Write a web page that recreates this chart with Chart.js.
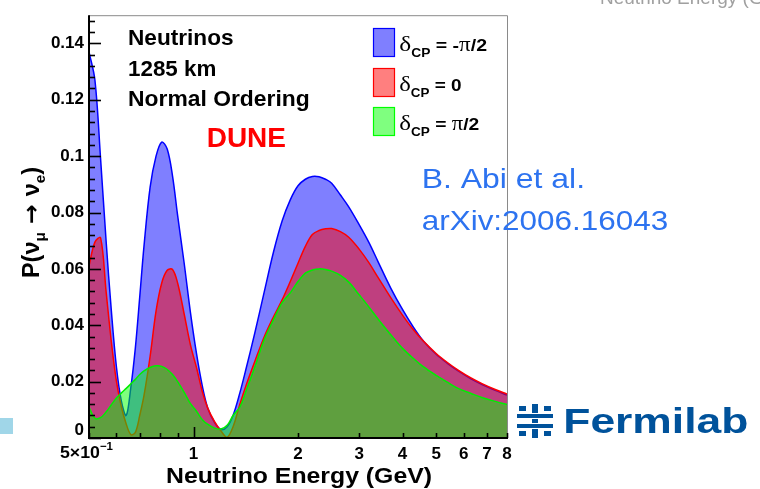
<!DOCTYPE html>
<html><head><meta charset="utf-8">
<script src="https://cdn.jsdelivr.net/npm/chart.js@4.4.1/dist/chart.umd.min.js"></script>
<style>html,body{margin:0;padding:0;background:#fff;overflow:hidden}canvas{display:block}</style>
</head><body>
<canvas id="c" width="760" height="489"></canvas>
<script>
// ---- data ----
const energies = [0.50,0.52,0.54,0.56,0.58,0.60,0.62,0.64,0.66,0.68,0.70,0.72,0.75,0.78,0.81,0.84,0.87,0.90,0.94,0.98,
  1.02,1.06,1.10,1.15,1.20,1.25,1.30,1.36,1.42,1.50,1.60,1.70,1.80,1.90,2.0,2.1,2.2,2.3,2.4,2.5,2.65,2.8,3.0,3.2,3.4,3.7,4.0,4.3,4.6,5.0,5.4,5.8,6.3,6.8,7.4,8.0];
const probNegHalfPi = [0.137,0.127,0.099,0.070,0.045,0.025,0.013,0.008,0.018,0.032,0.050,0.068,0.089,0.100,0.105,0.1025,0.093,0.079,0.062,0.0445,
  0.030,0.0185,0.0105,0.0055,0.003,0.004,0.008,0.016,0.025,0.037,0.052,0.066,0.077,0.0845,0.0895,0.0918,0.0928,0.0927,0.0918,0.0904,0.0862,0.082,0.0757,0.0694,0.0626,0.0532,0.0456,0.0393,0.0343,0.0297,0.0264,0.0237,0.0210,0.0189,0.0169,0.0152];
const probZero = [0.061,0.0695,0.071,0.052,0.034,0.020,0.011,0.005,0.0012,0.002,0.008,0.015,0.029,0.045,0.055,0.0595,0.0598,0.055,0.044,0.033,
  0.025,0.0165,0.0105,0.0058,0.0025,0.0003,0.004,0.012,0.019,0.027,0.036,0.043,0.049,0.0555,0.062,0.068,0.0722,0.0736,0.0742,0.0743,0.0732,0.0712,0.0670,0.0622,0.0570,0.0498,0.0436,0.0384,0.0343,0.0300,0.0267,0.0240,0.0213,0.0192,0.0172,0.0156];
const probPosHalfPi = [0.011,0.0070,0.0072,0.0092,0.0118,0.0142,0.0160,0.0176,0.0192,0.0208,0.0225,0.0238,0.0250,0.0256,0.0254,0.0243,0.0225,0.0200,0.0162,0.0122,
  0.0095,0.0065,0.0048,0.0035,0.0032,0.0045,0.008,0.011,0.017,0.025,0.035,0.042,0.048,0.0515,0.0555,0.0585,0.0596,0.0600,0.0598,0.0592,0.0577,0.0553,0.0508,0.0465,0.0422,0.0366,0.0318,0.0282,0.0252,0.0222,0.0197,0.0175,0.0158,0.0143,0.0130,0.0119];
const seriesNames = ['δCP = -π/2', 'δCP = 0', 'δCP = π/2'];
const xTickValues = [0.5,0.6,0.7,0.8,0.9,1,2,3,4,5,6,7,8];
const xTickLabels = ['5×10⁻¹','','','','','1','2','3','4','5','6','7','8'];
const yMajorLabels = ['0','0.02','0.04','0.06','0.08','0.1','0.12','0.14'];
const yTickValues = [];
for (let i = 0; i <= 37; i++) yTickValues.push(+(i * 0.004).toFixed(3));

const SANS = '"Liberation Sans", Arial, sans-serif';
const SERIF = '"Liberation Serif", serif';

function pts(arr){ return energies.map((e,i)=>({x:e,y:arr[i]})); }
function ds(label, arr, line, fill, order){
  return {label, data: pts(arr), borderColor: line, backgroundColor: fill, fill: 'origin',
    borderWidth: 1.5, pointRadius: 0, tension: 0.35, order};
}

function richWidth(ctx, parts){ let w=0; for(const p of parts){ ctx.font=p.f; w+=ctx.measureText(p.t).width; } return w; }
function drawRich(ctx, parts, x, y, targetW, color){
  const w = richWidth(ctx, parts);
  const sx = targetW ? targetW / w : 1;
  ctx.save(); ctx.translate(x, y); ctx.scale(sx, 1);
  ctx.textBaseline = 'alphabetic'; ctx.textAlign = 'left';
  let cx = 0;
  for (const p of parts){ ctx.font = p.f; ctx.fillStyle = p.c || color; ctx.fillText(p.t, cx, p.dy || 0); cx += ctx.measureText(p.t).width; }
  ctx.restore();
}

const decor = {
  id: 'decor',
  afterDatasetsDraw(chart){
    const ctx = chart.ctx, a = chart.chartArea, xs = chart.scales.x, ys = chart.scales.y;
    ctx.save();
    ctx.strokeStyle = '#8a8a8a'; ctx.lineWidth = 1;
    ctx.beginPath(); ctx.moveTo(a.left, a.top + 0.5); ctx.lineTo(a.right + 0.5, a.top + 0.5); ctx.lineTo(a.right + 0.5, a.bottom); ctx.stroke();
    ctx.strokeStyle = '#000'; ctx.lineWidth = 2;
    ctx.beginPath(); ctx.moveTo(a.left, a.top); ctx.lineTo(a.left, a.bottom); ctx.lineTo(a.right + 1, a.bottom); ctx.stroke();
    ctx.lineWidth = 1.6;
    for (const v of yTickValues){
      const y = Math.round(ys.getPixelForValue(v)) + 0.5;
      const major = Math.round(v*1000) % 20 === 0;
      ctx.beginPath(); ctx.moveTo(a.left, y); ctx.lineTo(a.left + (major ? 12 : 6), y); ctx.stroke();
    }
    for (const v of xTickValues){
      const x = Math.round(xs.getPixelForValue(v)) + 0.5;
      ctx.beginPath(); ctx.moveTo(x, a.bottom); ctx.lineTo(x, a.bottom - (v === 1 ? 11 : 5)); ctx.stroke();
    }
    ctx.restore();
  },
  afterDraw(chart){
    const ctx = chart.ctx, a = chart.chartArea, xs = chart.scales.x, ys = chart.scales.y;
    ctx.save();
    ctx.fillStyle = '#000'; ctx.font = 'bold 17px ' + SANS; ctx.textAlign = 'right'; ctx.textBaseline = 'alphabetic';
    ctx.fillText(yMajorLabels[0], a.left - 5, ys.getPixelForValue(0) - 3);
    drawRich(ctx, [{t:'5×10', f:'bold 17px ' + SANS}, {t:'−1', f:'bold 11px ' + SANS, dy:-8}], xs.getPixelForValue(0.5) - 29, 458, 53, '#000');
    drawRich(ctx, [{t:'Neutrino Energy (GeV)', f:'bold 22px ' + SANS}], 166, 483, 266, '#000');
    ctx.save(); ctx.translate(39, 278); ctx.rotate(-Math.PI/2);
    drawRich(ctx, [{t:'P(', f:'bold 23px ' + SANS}, {t:'ν', f:'bold 23px ' + SANS}, {t:'μ', f:'bold 15px ' + SANS, dy:6},
      {t:' → ', f:'bold 23px "DejaVu Sans"'}, {t:'ν', f:'bold 23px ' + SANS}, {t:'e', f:'bold 15px ' + SANS, dy:6}, {t:')', f:'bold 23px ' + SANS}], 0, 0, 111, '#000');
    ctx.restore();
    drawRich(ctx, [{t:'Neutrinos', f:'bold 22px ' + SANS}], 128, 45, 105.6, '#000');
    drawRich(ctx, [{t:'1285 km', f:'bold 22px ' + SANS}], 128, 76, 88.3, '#000');
    drawRich(ctx, [{t:'Normal Ordering', f:'bold 22px ' + SANS}], 128, 105.5, 181.7, '#000');
    drawRich(ctx, [{t:'DUNE', f:'bold 28px ' + SANS}], 206.7, 146.7, 79.3, '#ff0000');
    drawRich(ctx, [{t:'B. Abi et al.', f:'28px ' + SANS}], 421.7, 188.3, 163.3, 'rgb(45,115,240)');
    drawRich(ctx, [{t:'arXiv:2006.16043', f:'28px ' + SANS}], 421.7, 230, 246.6, 'rgb(45,115,240)');
    const legend = [
      {y:28, fill:'rgba(0,0,255,0.5)', line:'#0000ff', tail:[{t:' = -', f:'bold 17px ' + SANS}, {t:'π', f:'20px ' + SERIF}, {t:'/2', f:'bold 17px ' + SANS}], w:87.7, base:50.7},
      {y:68, fill:'rgba(255,0,0,0.5)', line:'#ff0000', tail:[{t:' = 0', f:'bold 17px ' + SANS}], w:62.3, base:90.7},
      {y:107, fill:'rgba(0,255,0,0.5)', line:'#00ff00', tail:[{t:' = ', f:'bold 17px ' + SANS}, {t:'π', f:'20px ' + SERIF}, {t:'/2', f:'bold 17px ' + SANS}], w:80, base:130}
    ];
    legend.forEach((L) => {
      ctx.fillStyle = L.fill; ctx.fillRect(373, L.y, 22, 29);
      ctx.strokeStyle = L.line; ctx.lineWidth = 1.2; ctx.strokeRect(373.5, L.y + 0.5, 21, 28);
      drawRich(ctx, [{t:'δ', f:'22px ' + SERIF}, {t:'CP', f:'bold 12px ' + SANS, dy:6}].concat(L.tail), 399.3, L.base, L.w, '#000');
    });
    drawRich(ctx, [{t:'Neutrino Energy (GeV)', f:'19px ' + SANS}], 600, 4, 0, '#a0a0a0');
    ctx.fillStyle = 'rgb(160,214,232)'; ctx.fillRect(0, 418, 13, 16);
    const fb = 'rgb(0,82,155)';
    ctx.fillStyle = fb;
    ctx.fillRect(532, 404, 6, 9); ctx.fillRect(532, 429, 6, 9);
    ctx.fillRect(517, 414, 36, 4); ctx.fillRect(517, 424, 36, 4);
    ctx.fillRect(519, 406, 7, 5); ctx.fillRect(544, 406, 7, 5);
    ctx.fillRect(519, 431, 7, 5); ctx.fillRect(544, 431, 7, 5);
    ctx.fillRect(532, 419, 6, 4);
    drawRich(ctx, [{t:'Fermilab', f:'bold 35px ' + SANS}], 563.3, 433.3, 185, fb);
    ctx.restore();
  }
};

new Chart(document.getElementById('c'), {
  type: 'line',
  data: { datasets: [
    ds(seriesNames[0], probNegHalfPi, '#0000ff', 'rgba(0,0,255,0.5)', 3),
    ds(seriesNames[1], probZero, '#ff0000', 'rgba(255,0,0,0.5)', 2),
    ds(seriesNames[2], probPosHalfPi, '#00ee00', 'rgba(0,255,0,0.5)', 1)
  ]},
  options: {
    responsive: false, animation: false, devicePixelRatio: 1,
    layout: { padding: { top: 6, right: 253, left: 0, bottom: 0 } },
    plugins: { legend: { display: false }, tooltip: { enabled: false }, title: { display: false } },
    scales: {
      x: { type: 'logarithmic', min: 0.5, max: 8,
        afterBuildTicks: s => { s.ticks = xTickValues.map(v => ({value: v})); },
        afterFit: s => { s.height = 51; },
        grid: { display: false, drawTicks: false }, border: { display: false },
        ticks: { autoSkip: false, maxRotation: 0, minRotation: 0, padding: 6, color: '#000',
          font: { family: SANS, weight: 'bold', size: 17 },
          callback: (v) => { const i = xTickValues.indexOf(v); return (i <= 0) ? '' : xTickLabels[i]; } } },
      y: { type: 'linear', min: 0, max: 0.15,
        afterBuildTicks: s => { s.ticks = yTickValues.map(v => ({value: v})); },
        afterFit: s => { s.width = 89; },
        grid: { display: false, drawTicks: false }, border: { display: false },
        ticks: { autoSkip: false, padding: 5, color: '#000', font: { family: SANS, weight: 'bold', size: 17 },
          callback: (v) => { const k = Math.round(v * 1000); if (k % 20 !== 0 || k === 0) return ''; return yMajorLabels[k / 20]; } } }
    }
  },
  plugins: [decor]
});
</script>
</body></html>
